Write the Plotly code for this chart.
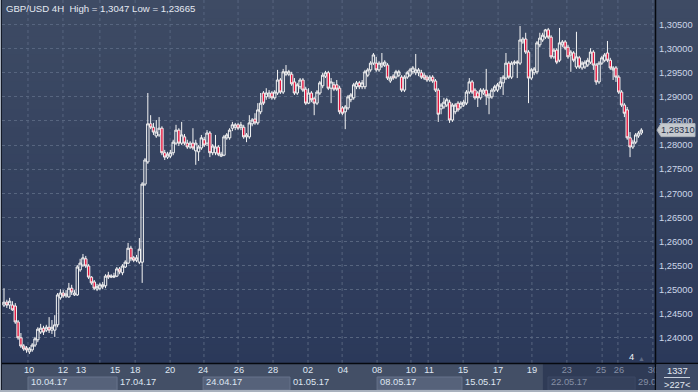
import plotly.graph_objects as go

# ---------------- data (GBP/USD, 4H bars) ----------------
opens = [
    1.2468, 1.2474, 1.2468, 1.2468, 1.2466, 1.2433, 1.2400, 1.2383, 1.2379, 1.2371,
    1.2375, 1.2385, 1.2396, 1.2412, 1.2420, 1.2416, 1.2422, 1.2416, 1.2416, 1.2427,
    1.2483, 1.2493, 1.2487, 1.2485, 1.2503, 1.2489, 1.2489, 1.2541, 1.2551, 1.2564,
    1.2549, 1.2526, 1.2516, 1.2501, 1.2503, 1.2506, 1.2508, 1.2530, 1.2526, 1.2526,
    1.2528, 1.2543, 1.2535, 1.2547, 1.2555, 1.2586, 1.2566, 1.2561, 1.2557, 1.2557,
    1.2719, 1.2765, 1.2844, 1.2837, 1.2819, 1.2821, 1.2835, 1.2784, 1.2775, 1.2777,
    1.2784, 1.2804, 1.2831, 1.2804, 1.2817, 1.2804, 1.2796, 1.2804, 1.2788, 1.2786,
    1.2794, 1.2811, 1.2804, 1.2825, 1.2784, 1.2784, 1.2796, 1.2777, 1.2779, 1.2815,
    1.2815, 1.2835, 1.2837, 1.2842, 1.2837, 1.2837, 1.2817, 1.2817, 1.2844, 1.2854,
    1.2846, 1.2869, 1.2908, 1.2900, 1.2902, 1.2908, 1.2898, 1.2908, 1.2935, 1.2910,
    1.2947, 1.2947, 1.2947, 1.2931, 1.2908, 1.2921, 1.2935, 1.2916, 1.2887, 1.2908,
    1.2896, 1.2887, 1.2908, 1.2923, 1.2943, 1.2950, 1.2918, 1.2925, 1.2925, 1.2918,
    1.2877, 1.2869, 1.2877, 1.2894, 1.2898, 1.2921, 1.2929, 1.2921, 1.2921, 1.2945,
    1.2956, 1.2970, 1.2970, 1.2956, 1.2964, 1.2966, 1.2966, 1.2933, 1.2943, 1.2941,
    1.2945, 1.2941, 1.2914, 1.2941, 1.2945, 1.2952, 1.2950, 1.2950, 1.2950, 1.2945,
    1.2941, 1.2935, 1.2941, 1.2933, 1.2914, 1.2875, 1.2879, 1.2883, 1.2889, 1.2852,
    1.2869, 1.2887, 1.2879, 1.2883, 1.2887, 1.2910, 1.2931, 1.2914, 1.2908, 1.2898,
    1.2908, 1.2914, 1.2898, 1.2900, 1.2914, 1.2914, 1.2921, 1.2929, 1.2939, 1.2970,
    1.2941, 1.2970, 1.2970, 1.2970, 1.3014, 1.3020, 1.2993, 1.2939, 1.2950, 1.2952,
    1.3008, 1.3018, 1.3024, 1.3039, 1.3024, 1.2983, 1.2997, 1.2976, 1.3008, 1.3014,
    1.3003, 1.2987, 1.2991, 1.2962, 1.2981, 1.2960, 1.2962, 1.2966, 1.2972, 1.2993,
    1.2966, 1.2931, 1.2970, 1.2976, 1.2991, 1.2976, 1.2956, 1.2960, 1.2941, 1.2910,
    1.2883, 1.2873, 1.2815, 1.2796, 1.2806, 1.2819, 1.2825,
]
highs = [
    1.2503, 1.2479, 1.2483, 1.2476, 1.2472, 1.2437, 1.2410, 1.2387, 1.2383, 1.2381,
    1.2389, 1.2402, 1.2422, 1.2429, 1.2425, 1.2427, 1.2443, 1.2437, 1.2447, 1.2493,
    1.2501, 1.2499, 1.2499, 1.2514, 1.2510, 1.2499, 1.2551, 1.2564, 1.2574, 1.2570,
    1.2553, 1.2528, 1.2520, 1.2512, 1.2514, 1.2516, 1.2532, 1.2537, 1.2532, 1.2535,
    1.2547, 1.2547, 1.2553, 1.2561, 1.2597, 1.2591, 1.2570, 1.2572, 1.2607, 1.2723,
    1.2773, 1.2908, 1.2862, 1.2846, 1.2852, 1.2858, 1.2839, 1.2790, 1.2786, 1.2790,
    1.2811, 1.2842, 1.2835, 1.2848, 1.2823, 1.2811, 1.2808, 1.2835, 1.2811, 1.2800,
    1.2821, 1.2817, 1.2831, 1.2829, 1.2802, 1.2821, 1.2800, 1.2786, 1.2821, 1.2825,
    1.2835, 1.2848, 1.2846, 1.2846, 1.2848, 1.2842, 1.2825, 1.2862, 1.2856, 1.2866,
    1.2887, 1.2908, 1.2912, 1.2918, 1.2914, 1.2912, 1.2914, 1.2956, 1.2939, 1.2958,
    1.2966, 1.2956, 1.2952, 1.2939, 1.2929, 1.2939, 1.2939, 1.2921, 1.2918, 1.2912,
    1.2900, 1.2914, 1.2933, 1.2950, 1.2954, 1.2954, 1.2939, 1.2931, 1.2935, 1.2923,
    1.2881, 1.2883, 1.2904, 1.2908, 1.2929, 1.2933, 1.2933, 1.2935, 1.2956, 1.2960,
    1.2974, 1.2991, 1.2983, 1.2974, 1.2991, 1.2976, 1.2970, 1.2943, 1.2947, 1.2956,
    1.2956, 1.2945, 1.2945, 1.2954, 1.2960, 1.2964, 1.2989, 1.2960, 1.2956, 1.2950,
    1.2945, 1.2945, 1.2945, 1.2937, 1.2918, 1.2887, 1.2898, 1.2898, 1.2894, 1.2887,
    1.2887, 1.2891, 1.2891, 1.2894, 1.2914, 1.2939, 1.2935, 1.2918, 1.2912, 1.2918,
    1.2918, 1.2958, 1.2908, 1.2918, 1.2925, 1.2929, 1.2941, 1.2945, 1.2991, 1.2974,
    1.2974, 1.2976, 1.2976, 1.3047, 1.3024, 1.3033, 1.2997, 1.2960, 1.2962, 1.3016,
    1.3033, 1.3033, 1.3041, 1.3043, 1.3028, 1.3001, 1.3001, 1.3043, 1.3018, 1.3018,
    1.3008, 1.2997, 1.2995, 1.3035, 1.2985, 1.2974, 1.2976, 1.2981, 1.3001, 1.2997,
    1.2970, 1.2974, 1.2985, 1.2991, 1.3016, 1.2981, 1.2964, 1.2964, 1.2945, 1.2914,
    1.2887, 1.2879, 1.2827, 1.2811, 1.2825, 1.2829, 1.2835,
]
lows = [
    1.2464, 1.2462, 1.2460, 1.2456, 1.2429, 1.2396, 1.2379, 1.2373, 1.2369, 1.23665,
    1.2371, 1.2381, 1.2391, 1.2408, 1.2406, 1.2412, 1.2410, 1.2408, 1.2402, 1.2422,
    1.2479, 1.2483, 1.2483, 1.2483, 1.2489, 1.2487, 1.2487, 1.2537, 1.2547, 1.2545,
    1.2522, 1.2510, 1.2499, 1.2497, 1.2499, 1.2501, 1.2503, 1.2522, 1.2524, 1.2524,
    1.2526, 1.2532, 1.2530, 1.2545, 1.2553, 1.2559, 1.2557, 1.2557, 1.2553, 1.2514,
    1.2715, 1.2761, 1.2833, 1.2821, 1.2815, 1.2817, 1.2779, 1.2769, 1.2771, 1.2773,
    1.2779, 1.2800, 1.2798, 1.2800, 1.2800, 1.2792, 1.2792, 1.2790, 1.2759, 1.2767,
    1.2790, 1.2796, 1.2798, 1.2775, 1.2779, 1.2779, 1.2777, 1.2775, 1.2777, 1.2811,
    1.2811, 1.2829, 1.2831, 1.2831, 1.2831, 1.2813, 1.2806, 1.2813, 1.2839, 1.2842,
    1.2842, 1.2864, 1.2883, 1.2894, 1.2896, 1.2894, 1.2894, 1.2904, 1.2906, 1.2906,
    1.2943, 1.2943, 1.2923, 1.2904, 1.2904, 1.2916, 1.2910, 1.2883, 1.2885, 1.2889,
    1.2862, 1.2883, 1.2904, 1.2918, 1.2939, 1.2914, 1.2887, 1.2912, 1.2912, 1.2864,
    1.2862, 1.2833, 1.2873, 1.2889, 1.2894, 1.2916, 1.2916, 1.2916, 1.2916, 1.2941,
    1.2952, 1.2966, 1.2952, 1.2952, 1.2960, 1.2962, 1.2935, 1.2929, 1.2935, 1.2937,
    1.2941, 1.2910, 1.2910, 1.2937, 1.2941, 1.2947, 1.2945, 1.2943, 1.2937, 1.2935,
    1.2931, 1.2931, 1.2929, 1.2910, 1.2848, 1.2864, 1.2875, 1.2879, 1.2846, 1.2848,
    1.2864, 1.2869, 1.2875, 1.2879, 1.2883, 1.2906, 1.2906, 1.2894, 1.2879, 1.2894,
    1.2904, 1.2883, 1.2864, 1.2896, 1.2910, 1.2910, 1.2916, 1.2904, 1.2935, 1.2937,
    1.2937, 1.2966, 1.2939, 1.2966, 1.3010, 1.2989, 1.2887, 1.2935, 1.2945, 1.2947,
    1.3003, 1.3014, 1.3020, 1.3020, 1.2979, 1.2979, 1.2968, 1.2972, 1.3003, 1.2997,
    1.2979, 1.2952, 1.2972, 1.2958, 1.2958, 1.2956, 1.2958, 1.2962, 1.2968, 1.2956,
    1.2925, 1.2927, 1.2966, 1.2972, 1.2972, 1.2956, 1.2935, 1.2931, 1.2906, 1.2879,
    1.2858, 1.2811, 1.2775, 1.2792, 1.2802, 1.2815, 1.2821,
]
closes = [
    1.2474, 1.2468, 1.2476, 1.2458, 1.2433, 1.2400, 1.2383, 1.2377, 1.2375, 1.2377,
    1.2385, 1.2398, 1.2418, 1.2420, 1.2412, 1.2422, 1.2416, 1.2422, 1.2427, 1.2489,
    1.2493, 1.2487, 1.2491, 1.2503, 1.2495, 1.2493, 1.2547, 1.2555, 1.2566, 1.2549,
    1.2526, 1.2514, 1.2503, 1.2506, 1.2510, 1.2510, 1.2528, 1.2526, 1.2528, 1.2528,
    1.2543, 1.2537, 1.2549, 1.2557, 1.2586, 1.2564, 1.2561, 1.2566, 1.2584, 1.2719,
    1.2769, 1.2844, 1.2837, 1.2827, 1.2827, 1.2835, 1.2784, 1.2775, 1.2781, 1.2784,
    1.2806, 1.2831, 1.2804, 1.2821, 1.2804, 1.2796, 1.2804, 1.2794, 1.2804, 1.2796,
    1.2815, 1.2800, 1.2825, 1.2784, 1.2798, 1.2796, 1.2781, 1.2781, 1.2817, 1.2821,
    1.2831, 1.2842, 1.2842, 1.2835, 1.2842, 1.2817, 1.2821, 1.2846, 1.2852, 1.2846,
    1.2873, 1.2887, 1.2887, 1.2908, 1.2908, 1.2898, 1.2910, 1.2935, 1.2910, 1.2952,
    1.2952, 1.2952, 1.2927, 1.2908, 1.2925, 1.2935, 1.2914, 1.2887, 1.2908, 1.2894,
    1.2887, 1.2910, 1.2929, 1.2945, 1.2950, 1.2918, 1.2931, 1.2916, 1.2916, 1.2869,
    1.2866, 1.2879, 1.2900, 1.2904, 1.2925, 1.2929, 1.2921, 1.2929, 1.2952, 1.2956,
    1.2970, 1.2987, 1.2956, 1.2970, 1.2970, 1.2972, 1.2939, 1.2939, 1.2939, 1.2952,
    1.2952, 1.2914, 1.2941, 1.2950, 1.2956, 1.2960, 1.2956, 1.2956, 1.2941, 1.2939,
    1.2935, 1.2941, 1.2933, 1.2914, 1.2864, 1.2883, 1.2889, 1.2894, 1.2852, 1.2883,
    1.2883, 1.2873, 1.2887, 1.2889, 1.2910, 1.2931, 1.2910, 1.2898, 1.2898, 1.2914,
    1.2914, 1.2902, 1.2904, 1.2914, 1.2921, 1.2925, 1.2931, 1.2941, 1.2970, 1.2941,
    1.2970, 1.2972, 1.2972, 1.3018, 1.3020, 1.2993, 1.2939, 1.2956, 1.2958, 1.3012,
    1.3022, 1.3028, 1.3039, 1.3024, 1.2983, 1.2997, 1.2972, 1.3012, 1.3014, 1.3001,
    1.2983, 1.2993, 1.2976, 1.2983, 1.2962, 1.2970, 1.2972, 1.2976, 1.2993, 1.2966,
    1.2931, 1.2970, 1.2981, 1.2987, 1.2976, 1.2960, 1.2960, 1.2941, 1.2910, 1.2883,
    1.2866, 1.2815, 1.2796, 1.2806, 1.2821, 1.2825, 1.2831,
]
bar_index = list(range(len(closes)))

# axis labels (positions in bar-index units)
day_tick_pos = [8.9, 20.9, 27.3, 39.4, 46.5, 58.9, 70.6, 83.3, 95.4, 107.8, 120.2,
                132.3, 144.3, 150.7, 162.8, 175.2, 187.2, 199.6, 211.7, 218.1, 230.1]
day_tick_text = ["10", "12", "13", "15", "18", "20", "24", "26", "28", "02", "04",
                 "08", "10", "11", "15", "17", "19", "23", "25", "26", "30"]
week_start_pos = [8.5, 40.1, 70.6, 101.4, 132.3, 162.4, 192.9, 223.8]
week_labels = ["10.04.17", "17.04.17", "24.04.17", "01.05.17",
               "08.05.17", "15.05.17", "22.05.17", "29.05.17"]
grid_pos = [8.5, 20.9, 34.0, 46.5, 58.9, 70.9, 83.0, 95.4, 107.8, 119.9, 132.3,
            144.3, 150.4, 162.8, 175.2, 187.2, 199.6, 212.1, 217.7, 230.1]
price_ticks = [1.240, 1.245, 1.250, 1.255, 1.260, 1.265, 1.270, 1.275,
               1.280, 1.285, 1.290, 1.295, 1.300, 1.305]
symbol = "GBP/USD"
timeframe = "4H"
counter_text = "1337"

# ---------------- layout geometry ----------------
W, H = 698, 392
ML, MR, MT, MB = 2, 43, 0, 29
PW = W - ML - MR
PH = H - MT - MB
X_RANGE = [-0.71, 230.85]
Y_RANGE = [1.23478, 1.3101]


def px_x(p):
    return (p - ML) / PW


def px_y(p):
    return (PH + MT - p) / PH


FONT = "Liberation Sans, Arial, sans-serif"
FS = 9.3
TXT = "#dfe6f2"
DIM = "#858fa5"
GRID = "#57657f"
shade_start = week_start_pos[6] - 1.8


def dec(v, n=None):
    s = f"{v:.{n}f}" if n else repr(round(v, 5))
    return s.replace(".", ",")


fig = go.Figure()
fig.add_trace(go.Candlestick(
    x=bar_index, open=opens, high=highs, low=lows, close=closes,
    increasing=dict(line=dict(color="#f4f4f4", width=1), fillcolor="rgba(0,0,0,0)"),
    decreasing=dict(line=dict(color="#f4f4f4", width=1), fillcolor="#e3143d"),
    whiskerwidth=0, hoverinfo="skip", showlegend=False,
))
# empty trace that carries the week-label axis
fig.add_trace(go.Scatter(x=[None], y=[None], xaxis="x2", yaxis="y",
                         showlegend=False, hoverinfo="skip"))

shapes = []
# background gradient (plot + right scale panel)
top_c = (62, 75, 100)
bot_c = (43, 57, 90)
NB = 40
for k in range(NB):
    t = (k + 0.5) / NB
    c = tuple(round(bot_c[j] + (top_c[j] - bot_c[j]) * t) for j in range(3))
    shapes.append(dict(type="rect", xref="paper", yref="paper", layer="below",
                       x0=px_x(0), x1=px_x(W), y0=k / NB, y1=(k + 1) / NB + 0.002,
                       line=dict(width=0), fillcolor=f"rgb{c}"))
# darker "current" zone of the time scale
shapes.append(dict(type="rect", xref="x", yref="paper", layer="below",
                   x0=shade_start, x1=X_RANGE[1] + 5, y0=px_y(390), y1=px_y(363),
                   line=dict(width=0), fillcolor="#2f3b56"))
# alternating week boxes
for k, ws in enumerate(week_start_pos):
    if k % 2:
        continue
    we = week_start_pos[k + 1] if k + 1 < len(week_start_pos) else X_RANGE[1] + 5
    dim = ws >= shade_start
    shapes.append(dict(type="rect", xref="x", yref="paper", layer="below",
                       x0=ws, x1=we, y0=px_y(390), y1=px_y(377),
                       line=dict(width=1, color="#3d4964" if dim else "#67738b"),
                       fillcolor="#35415c" if dim else "#56627a"))
# vertical dashed grid
for g in grid_pos:
    shapes.append(dict(type="line", xref="x", yref="paper", layer="below",
                       x0=g, x1=g, y0=0, y1=1,
                       line=dict(color=GRID, width=1, dash="3px,3px")))
# separators & frame
shapes += [
    dict(type="line", xref="paper", yref="paper", layer="above",
         x0=px_x(655.5), x1=px_x(655.5), y0=px_y(H), y1=px_y(0),
         line=dict(color="#06090f", width=1.5)),
    dict(type="line", xref="paper", yref="paper", layer="above",
         x0=px_x(0), x1=px_x(W), y0=px_y(363.5), y1=px_y(363.5),
         line=dict(color="#06090f", width=1.5)),
    dict(type="rect", xref="paper", yref="paper", layer="above",
         x0=px_x(656.3), x1=px_x(W), y0=px_y(390), y1=px_y(364.3),
         line=dict(width=0), fillcolor="#3c4965"),
    dict(type="line", xref="paper", yref="paper", layer="above",
         x0=px_x(664), x1=px_x(690), y0=px_y(377.5), y1=px_y(377.5),
         line=dict(color="#c9d1dd", width=1)),
    dict(type="line", xref="paper", yref="paper", layer="above",
         x0=px_x(0.5), x1=px_x(0.5), y0=px_y(H), y1=px_y(0),
         line=dict(color="#a9b1bd", width=1)),
    dict(type="line", xref="paper", yref="paper", layer="above",
         x0=px_x(1.5), x1=px_x(1.5), y0=px_y(H), y1=px_y(0),
         line=dict(color="#151b28", width=1)),
    dict(type="line", xref="paper", yref="paper", layer="above",
         x0=px_x(0), x1=px_x(W), y0=px_y(391), y1=px_y(391),
         line=dict(color="#a9b1bd", width=2)),
    # last-price tag
    dict(type="path", xref="paper", yref="y", layer="above",
         xsizemode="pixel", ysizemode="pixel",
         xanchor=px_x(655.5), yanchor=closes[-1],
         path="M 1.5 0 L 5.5 -6.5 L 39.5 -6.5 L 39.5 6.5 L 5.5 6.5 Z",
         line=dict(color="#aeb3ba", width=1), fillcolor="#c5c9ce"),
]

annotations = [
    dict(text=f"{symbol} {timeframe}  High = {dec(max(highs))} Low = {dec(min(lows))}",
         xref="paper", yref="paper", x=px_x(4), y=px_y(8), xanchor="left",
         yanchor="middle", showarrow=False, font=dict(family=FONT, size=9.6, color="#e4e9f2")),
    dict(text=dec(closes[-1], 5), xref="paper", yref="y", x=px_x(678), y=closes[-1],
         xanchor="center", yanchor="middle", showarrow=False,
         font=dict(family=FONT, size=FS, color="#27304a")),
    dict(text="4", xref="paper", yref="paper", x=px_x(631), y=px_y(357),
         xanchor="center", yanchor="middle", showarrow=False,
         font=dict(family=FONT, size=FS, color="#f0f3f8")),
    dict(text="▲", xref="paper", yref="paper", x=px_x(641), y=px_y(358),
         xanchor="center", yanchor="middle", showarrow=False,
         font=dict(family=FONT, size=7, color="#5d6a84")),
    dict(text=counter_text, xref="paper", yref="paper", x=px_x(677), y=px_y(371),
         xanchor="center", yanchor="middle", showarrow=False,
         font=dict(family=FONT, size=FS, color="#e4e9f2")),
    dict(text=f">{len(closes)}<", xref="paper", yref="paper", x=px_x(677), y=px_y(384.5),
         xanchor="center", yanchor="middle", showarrow=False,
         font=dict(family=FONT, size=FS, color="#e4e9f2")),
]

day_text = [f'<span style="color:{DIM}">{t}</span>' if p >= shade_start else t
            for p, t in zip(day_tick_pos, day_tick_text)]
week_text = [f'<span style="color:{DIM}">{t}</span>' if p >= shade_start else t
             for p, t in zip(week_start_pos, week_labels)]

fig.update_layout(
    width=W, height=H,
    margin=dict(l=ML, r=MR, t=MT, b=MB, pad=0),
    paper_bgcolor="#434f66", plot_bgcolor="rgba(0,0,0,0)",
    separators=",.",
    boxgap=0.15, boxgroupgap=0.0,
    showlegend=False,
    font=dict(family=FONT, size=FS, color=TXT),
    xaxis=dict(range=X_RANGE, tickmode="array", tickvals=day_tick_pos, ticktext=day_text,
               showgrid=False, zeroline=False, showline=False, ticks="",
               tickfont=dict(family=FONT, size=FS, color=TXT),
               rangeslider=dict(visible=False), fixedrange=True),
    xaxis2=dict(overlaying="x", anchor="y", side="bottom", matches="x",
                tickmode="array", tickvals=week_start_pos, ticktext=week_text,
                ticklabelposition="outside right", ticklabelstandoff=12,
                ticklabelshift=3,
                showgrid=False, zeroline=False, showline=False, ticks="",
                tickfont=dict(family=FONT, size=FS, color=TXT)),
    yaxis=dict(range=Y_RANGE, side="right", tickmode="array", tickvals=price_ticks,
               tickformat=".5f", showgrid=True, gridcolor=GRID, griddash="3px,3px",
               gridwidth=1, zeroline=False, showline=False, ticks="",
               ticklabelstandoff=3,
               tickfont=dict(family=FONT, size=FS, color="#cdd6e8"), fixedrange=True),
    shapes=shapes,
    annotations=annotations,
)

fig.write_html(
    "out.html",
    config={"displayModeBar": False, "staticPlot": True},
    post_script="document.body.style.margin='0';document.body.style.padding='0';"
                "document.body.style.overflow='hidden';",
)
